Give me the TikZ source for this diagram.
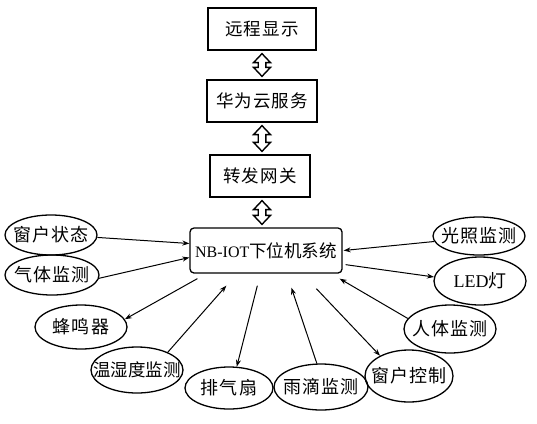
\documentclass[tikz,border=0pt]{standalone}
\usepackage{fontspec}
\setmainfont{Liberation Serif}
\newfontfamily\cjk{Noto Sans CJK SC}
\newfontfamily\cjksp[LetterSpace=6]{Noto Sans CJK SC}
\usetikzlibrary{shapes.geometric,calc,arrows.meta}
\newcommand\ctext[1]{\makebox[0pt]{#1}}
\tikzset{
  topbox/.style={draw, line width=1.3pt, minimum height=42pt, inner sep=0pt,
    font=\fontsize{17.5}{17.5}\selectfont\cjksp},
  mainbox/.style={draw, line width=1.3pt, rounded corners=4pt, minimum width=152pt,
    minimum height=45pt, inner sep=0pt, font=\fontsize{16}{16}\selectfont},
  ell/.style={draw, ellipse, line width=1.3pt, inner sep=0pt,
    font=\fontsize{18}{18}\selectfont\cjksp},
  conn/.style={line width=1pt, -{Stealth[length=7pt,width=5pt]}},
  hollowarr/.style={line width=1.4pt, fill=white, line join=miter},
}
\newcommand\hollowarrow[2]{%
  \draw[hollowarr] (#1) -- ($(#1)+(8.5,9)$) -- ($(#1)+(3.8,9)$) -- ($(#2)+(3.8,-9)$)
    -- ($(#2)+(8.5,-9)$) -- (#2) -- ($(#2)+(-8.5,-9)$) -- ($(#2)+(-3.8,-9)$)
    -- ($(#1)+(-3.8,9)$) -- ($(#1)+(-8.5,9)$) -- cycle;}
\begin{document}
\begin{tikzpicture}[x=1pt,y=-1pt]
\useasboundingbox (0,0) rectangle (537,423);
\fill[white] (0,0) rectangle (537,423);
% top column
\node[topbox, minimum width=108pt] (b1) at (262,29) {远程显示};
\node[topbox, minimum width=110pt] (b2) at (262,101) {华为云服务};
\node[topbox, minimum width=100pt] (b3) at (260,176) {转发网关};
\node[mainbox] (nb) at (266,250.5) {NB-IOT{\cjk\fontsize{17.5}{17.5}\selectfont 下位机系统}};
% hollow double arrows
\coordinate (a1t) at ($(b1.south)+(0,3)$);
\coordinate (a1b) at ($(b2.north)+(0,-3)$);
\coordinate (a2t) at ($(b2.south)+(0,3)$);
\coordinate (a2b) at ($(b3.north)+(2,-3)$);
\coordinate (a3t) at ($(b3.south)+(2,3)$);
\coordinate (a3b) at ($(nb.north)+(-4,-3)$);
\hollowarrow{a1t}{a1b}
\hollowarrow{a2t}{a2b}
\hollowarrow{a3t}{a3b}
% ellipses
\node[ell, minimum width=92pt, minimum height=40pt] (c1) at (51,235) {\ctext{窗户状态}};
\node[ell, minimum width=94pt, minimum height=40pt] (c2) at (52,275) {\ctext{气体监测}};
\node[ell, minimum width=92pt, minimum height=44pt] (c3) at (81,327) {\ctext{蜂鸣器}};
\node[ell, minimum width=92pt, minimum height=46pt, font=\fontsize{17.5}{17.5}\selectfont\cjk] (c4) at (137,370) {\ctext{温湿度监测}};
\node[ell, minimum width=88pt, minimum height=42pt] (c5) at (229,388) {\ctext{排气扇}};
\node[ell, minimum width=94pt, minimum height=46pt] (c6) at (321,387) {\ctext{雨滴监测}};
\node[ell, minimum width=88pt, minimum height=52pt] (c7) at (409,376) {\ctext{窗户控制}};
\node[ell, minimum width=92pt, minimum height=48pt] (c8) at (450,329) {\ctext{人体监测}};
\node[ell, minimum width=92pt, minimum height=48pt] (c9) at (480,281) {\ctext{{\rmfamily LED}灯}};
\node[ell, minimum width=92pt, minimum height=38pt] (c10) at (479,236) {\ctext{光照监测}};
% connectors
\draw[conn] (c1.-3) -- ($(nb.west)+(0,-7)$);
\draw[conn] (c2.-4) -- ($(nb.west)+(0,7)$);
\draw[conn] ($(nb.south west)+(8,5)$) -- (c3.10);
\draw[conn] (c4.30) -- ($(nb.south west)+(37,12)$);
\draw[conn] ($(nb.south west)+(68,12)$) -- (c5.70);
\draw[conn] (c6.100) -- ($(nb.south west)+(102,14)$);
\draw[conn] ($(nb.south west)+(127,15)$) -- (c7.145);
\draw[conn] (c8.166) -- ($(nb.south east)+(-3,5)$);
\draw[conn] ($(nb.south east)+(3,-9)$) -- (c9.175);
\draw[conn] (c10.187) -- ($(nb.east)+(1,0)$);
\end{tikzpicture}
\end{document}
